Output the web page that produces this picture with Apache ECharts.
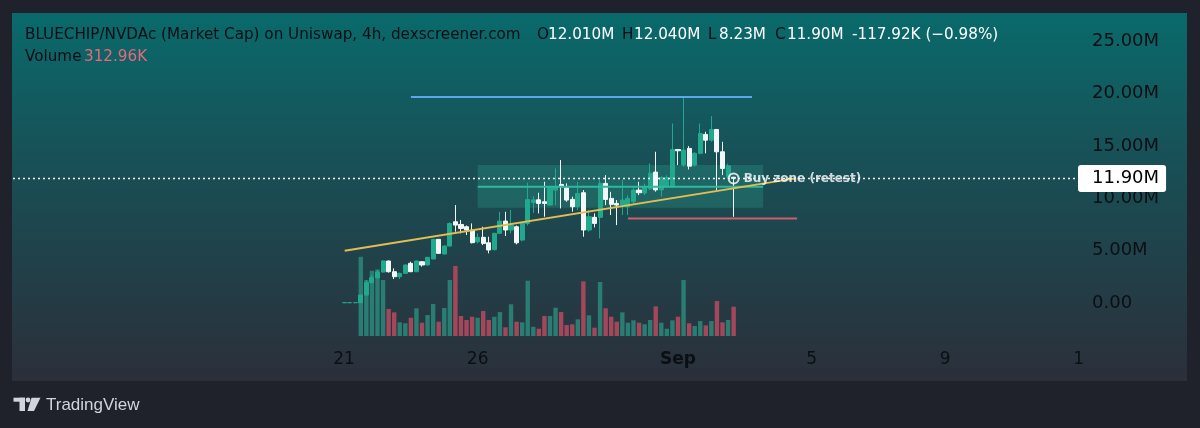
<!DOCTYPE html>
<html><head><meta charset="utf-8">
<script src="https://cdn.jsdelivr.net/npm/echarts@6/dist/echarts.min.js"></script>
<style>html,body{margin:0;padding:0;background:#1f222b;}#c{width:1200px;height:428px;}</style>
</head><body><div id="c"></div>
<script>
// ---- data (candle index i: first entry is i=-3) ----
const firstCandleIndex = -3;
const opens  = [0.03,0.03,0.03, 0.03,0.76,1.94,2.42,2.96,4.01,2.99,2.51,2.83,3.79,2.99,3.94,3.63,4.20,6.08,4.68,5.44,7.76,7.50,7.28,6.97,5.85,6.27,5.75,5.10,6.65,7.82,6.97,7.28,6.01,7.60,9.60,9.85,9.67,9.35,10.78,11.32,11.00,9.89,9.19,10.53,6.97,8.18,8.18,11.42,9.99,9.51,9.35,9.19,9.67,10.78,10.50,10.90,12.50,10.80,11.10,11.10,14.66,13.17,14.76,13.17,14.29,16.10,15.55,16.57,14.44,12.05,12.01];
const closes = [0.03,0.03,0.03, 0.76,1.94,2.42,2.96,4.01,2.99,2.51,2.83,3.63,2.99,4.01,3.63,4.36,6.08,4.74,5.44,7.60,7.44,7.12,6.97,5.76,6.27,5.69,5.06,6.65,7.82,6.97,7.44,5.75,7.60,9.89,9.85,9.51,9.51,11.10,11.10,11.10,9.83,9.19,10.46,6.97,8.24,7.60,11.42,9.89,9.42,9.35,9.83,9.99,10.78,10.53,11.10,12.40,10.80,11.99,11.99,14.66,14.54,14.60,13.07,14.29,16.19,15.55,16.57,14.44,12.85,13.10,11.90];
const lows   = [0.03,0.03,0.03, 0.03,0.70,1.90,2.30,2.90,2.90,2.29,2.29,2.80,2.95,2.95,3.47,3.60,4.20,4.70,4.65,5.40,6.81,6.65,6.49,5.69,5.69,5.53,4.74,5.00,6.60,6.39,6.65,5.60,5.90,7.40,8.60,8.55,8.24,9.30,9.35,9.03,9.67,8.72,8.88,6.33,6.81,7.22,6.17,9.35,8.40,7.44,8.40,8.40,9.50,10.30,10.30,10.80,10.63,10.15,11.00,11.00,13.17,13.00,12.75,13.00,14.20,14.29,15.40,10.79,12.21,11.90,8.23];
const highs  = [0.03,0.03,0.03, 0.80,2.19,2.67,3.15,4.10,4.05,3.31,2.90,3.70,3.94,4.05,4.00,4.40,6.10,6.10,5.50,7.70,9.35,7.92,7.40,7.60,6.65,7.28,6.33,6.70,8.71,8.71,8.88,7.40,7.70,11.50,10.20,10.53,11.58,11.20,12.85,13.65,11.42,10.15,11.58,10.78,8.88,8.56,11.74,12.21,10.62,9.83,11.74,10.30,11.10,11.58,11.40,13.33,14.44,12.10,12.20,17.14,14.70,19.69,14.98,14.40,17.14,16.35,17.84,16.60,15.39,13.30,12.04];
const volumesK = [0,0,0, 847,598,697,712,598,288,253,146,136,195,296,142,224,342,153,299,598,748,214,171,206,195,267,171,206,256,93,339,153,146,591,99,78,214,214,302,256,117,125,178,584,221,89,577,296,206,153,253,142,168,142,125,171,317,142,78,168,206,598,136,107,160,114,160,374,146,171,313];

const tickLabels = ['21','26','Sep','5','9','1'];
const tickCandleIndex = [-3, 21, 57, 81, 105, 129];

// drawings (x in candle index units, y in millions)
const trendLine = [[-2.9, 4.99], [78.1, 11.9]];
const resistanceLine = [[9, 19.66], [70.3, 19.66]];
const supportLine = [[48, 8.08], [78.4, 8.08]];
const buyZoneX = [21, 72.3];
const buyZoneY = [13.17, 9.09];
const buyZoneMid = 11.1;
const lastPrice = 11.90;
const buyZoneLabel = 'Buy zone (retest)';

const headerTitle = 'BLUECHIP/NVDAc (Market Cap) on Uniswap, 4h, dexscreener.com';
const headerOHLC = [['O','12.010M'],['H','12.040M'],['L','8.23M'],['C','11.90M']];
const headerChange = '-117.92K (\u22120.98%)';
const headerVolume = '312.96K';

// ---- layout ----
const N = 193, OFF = 62;
const categories = [];
for (let j = 0; j < N; j++) categories.push('_' + j);
tickCandleIndex.forEach((ci, k) => { const j = ci + OFF; if (j >= 0 && j < N) categories[j] = tickLabels[k]; });

const UP = '#22a88c', DOWN = '#f4f7f7', VUP = '#2a7d72', VDOWN = '#a4475b';
const candleData = [], volData = [];
for (let k = 0; k < opens.length; k++) {
  const j = firstCandleIndex + k + OFF;
  candleData.push([j, opens[k], closes[k], lows[k], highs[k]]);
  const up = closes[k] >= opens[k];
  volData.push({value: [j, volumesK[k]], itemStyle: {color: up ? VUP : VDOWN}});
}
const lastIdx = firstCandleIndex + opens.length - 1;

const chart = echarts.init(document.getElementById('c'), null, {renderer: 'canvas'});
const FONT = 'DejaVu Sans';
const DARK = '#0b0f13';
const HF = '15.2px ' + FONT;

const graphic = [
  {type: 'rect', z: -100, shape: {x: 12, y: 13, width: 1175, height: 368},
   style: {fill: new echarts.graphic.LinearGradient(0, 0, 0, 1, [
     {offset: 0, color: '#096a6b'}, {offset: 0.45, color: '#1a4d54'}, {offset: 1, color: '#2b2f3a'}])}},
  {type: 'text', z: 100, x: 25, y: 35, style: {text: headerTitle, fill: DARK, font: HF, verticalAlign: 'middle'}},
  {type: 'text', z: 100, x: 25, y: 57, style: {text: 'Volume', fill: DARK, font: HF, verticalAlign: 'middle'}},
  {type: 'text', z: 100, x: 84, y: 57, style: {text: headerVolume, fill: '#e8687a', font: HF, verticalAlign: 'middle'}},
  {type: 'text', z: 100, x: 852, y: 35, style: {text: headerChange, fill: '#ffffff', font: HF, verticalAlign: 'middle'}},
  // TradingView logo
  {type: 'rect', z: 100, shape: {x: 13.5, y: 397.7, width: 11.5, height: 4}, style: {fill: '#d1d4dc'}},
  {type: 'rect', z: 100, shape: {x: 19.5, y: 397.7, width: 5.5, height: 13.3}, style: {fill: '#d1d4dc'}},
  {type: 'circle', z: 100, shape: {cx: 28, cy: 400, r: 2.4}, style: {fill: '#d1d4dc'}},
  {type: 'polygon', z: 100, shape: {points: [[31.5, 397.7], [40.5, 397.7], [34, 411], [27.5, 411]]}, style: {fill: '#d1d4dc'}},
  {type: 'text', z: 100, x: 46, y: 405, style: {text: 'TradingView', fill: '#d1d4dc', font: '17px Liberation Sans', verticalAlign: 'middle'}}
];
const ohlcX = [[537, 548], [622, 634], [708, 719], [775, 787]];
headerOHLC.forEach((p, k) => {
  graphic.push({type: 'text', z: 100, x: ohlcX[k][0], y: 35, style: {text: p[0], fill: DARK, font: HF, verticalAlign: 'middle'}});
  graphic.push({type: 'text', z: 100, x: ohlcX[k][1], y: 35, style: {text: p[1], fill: '#ffffff', font: HF, verticalAlign: 'middle'}});
});

const lineSeries = (data, color, z) => ({
  type: 'line', xAxisIndex: 2, yAxisIndex: 0, data, showSymbol: false, silent: true, z,
  lineStyle: {color, width: 2}, animation: false
});

const option = {
  animation: false,
  backgroundColor: '#1f222b',
  graphic,
  grid: [
    {left: 13, width: 1074, top: 41.2, height: 261.8},
    {left: 13, width: 1074, top: 256, height: 80}
  ],
  xAxis: [
    {type: 'category', gridIndex: 0, data: categories, boundaryGap: true, show: false},
    {type: 'category', gridIndex: 1, data: categories, boundaryGap: true,
     axisLine: {show: false}, axisTick: {show: false}, splitLine: {show: false},
     axisLabel: {interval: 0, margin: 15, color: DARK, fontSize: 17, fontFamily: FONT, hideOverlap: false,
       formatter: v => v.charAt(0) === '_' ? '' : (v === 'Sep' ? '{b|Sep}' : v),
       rich: {b: {fontWeight: 'bold', fontSize: 17, fontFamily: FONT, color: DARK}}}},
    {type: 'value', gridIndex: 0, min: -OFF - 0.5, max: N - OFF - 0.5, show: false}
  ],
  yAxis: [
    {type: 'value', gridIndex: 0, position: 'right', min: 0, max: 25, interval: 5,
     axisLine: {show: false}, axisTick: {show: false}, splitLine: {show: false},
     axisLabel: {margin: 5, color: DARK, fontSize: 18, fontFamily: FONT,
       formatter: v => v === 0 ? '0.00' : v.toFixed(2) + 'M'}},
    {type: 'value', gridIndex: 1, min: 0, max: 855, show: false}
  ],
  series: [
    {type: 'bar', xAxisIndex: 1, yAxisIndex: 1, data: volData, barWidth: 4.4, z: 1, silent: true},
    {type: 'line', xAxisIndex: 2, yAxisIndex: 0, data: [], z: 3, silent: true,
     markArea: {silent: true, itemStyle: {color: 'rgba(48,182,160,0.24)'},
       data: [[{coord: [buyZoneX[0], buyZoneY[0]]}, {coord: [buyZoneX[1], buyZoneY[1]]}]]}},
    {type: 'candlestick', xAxisIndex: 0, yAxisIndex: 0, data: candleData, encode: {x: 0, y: [1, 2, 3, 4]},
     barWidth: 4.6, z: 2, silent: true,
     itemStyle: {color: UP, color0: DOWN, borderColor: UP, borderColor0: DOWN, borderWidth: 1},
     markLine: {symbol: 'none', silent: true, animation: false,
       lineStyle: {type: [2, 3], color: '#ffffff', width: 1.3},
       label: {show: true, position: 'end', distance: -9, formatter: lastPrice.toFixed(2) + 'M',
         backgroundColor: '#ffffff', color: '#000000', fontSize: 18, fontFamily: FONT,
         padding: [5, 7, 4, 14], borderRadius: 3},
       data: [{yAxis: lastPrice}]}},
    lineSeries([[buyZoneX[0], buyZoneMid], [buyZoneX[1], buyZoneMid]], '#2fb89f', 4),
    lineSeries(resistanceLine, '#5ea6ec', 4),
    lineSeries(supportLine, '#c8626e', 4),
    lineSeries(trendLine, '#e2bd52', 5),
    {type: 'scatter', xAxisIndex: 0, yAxisIndex: 0, z: 6, silent: true,
     data: [[lastIdx + OFF, lastPrice]], symbol: 'circle', symbolSize: 10,
     itemStyle: {color: 'rgba(0,0,0,0)', borderColor: '#ffffff', borderWidth: 2},
     label: {show: true, position: 'right', distance: 4, formatter: buyZoneLabel,
       color: '#ffffff', fontWeight: 'bold', fontSize: 12, fontFamily: FONT}}
  ]
};
chart.setOption(option);
</script></body></html>
